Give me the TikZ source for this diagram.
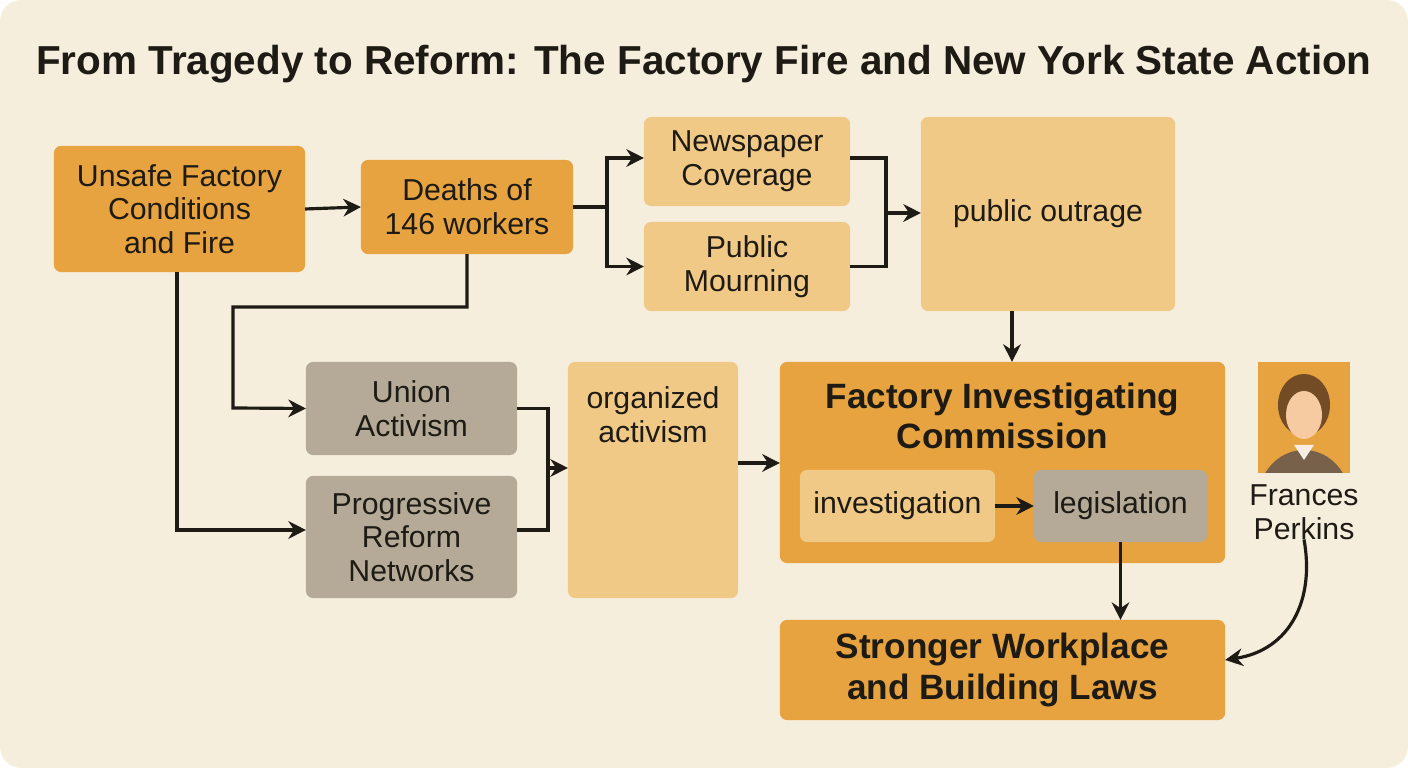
\documentclass[tikz,border=0pt]{standalone}
\usepackage{fontspec}
\setmainfont{Liberation Sans}
\usetikzlibrary{positioning,arrows.meta}
\definecolor{bgcol}{HTML}{F6EEDD}
\definecolor{darkbox}{HTML}{E6A33F}
\definecolor{lightbox}{HTML}{F0C987}
\definecolor{greybox}{HTML}{B4AA97}
\definecolor{inkcol}{HTML}{1E1A14}
\begin{document}
\begin{tikzpicture}[x=0.01cm,y=-0.01cm,inner sep=0pt,outer sep=0pt,thick,
box/.style={rectangle,rounded corners=2pt,align=center,text=inkcol,font=\fontsize{8.6}{9.6}\selectfont},
dbox/.style={box,fill=darkbox},
lbox/.style={box,fill=lightbox},
gbox/.style={box,fill=greybox},
arr/.style={-{Stealth[length=5pt,width=5pt]},draw=inkcol,line width=0.9pt}]
\fill[bgcol,rounded corners=6pt] (0,0) rectangle (1408,768);
\useasboundingbox (0,0) rectangle (1408,768);
\node[font=\bfseries\fontsize{11.5}{13}\selectfont,text=inkcol] (title) at (704,64) {From Tragedy to Reform: The Factory Fire and New York State Action};

\node[dbox,minimum width=2.51cm,minimum height=1.26cm] (unsafe) at (179.5,209) {Unsafe Factory\\Conditions\\and Fire};
\node[dbox,minimum width=2.12cm,minimum height=0.94cm] (deaths) at (467,207) {Deaths of\\146 workers};
\node[lbox,minimum width=2.06cm,minimum height=0.89cm] (news) at (747,161.5) {Newspaper\\Coverage};
\node[lbox,minimum width=2.06cm,minimum height=0.89cm] (mourn) at (747,266.5) {Public\\Mourning};
\node[lbox,minimum width=2.54cm,minimum height=1.94cm] (outrage) at (1048,214) {public outrage};
\node[gbox,minimum width=2.11cm,minimum height=0.93cm] (union) at (411.5,408.5) {Union\\Activism};
\node[gbox,minimum width=2.11cm,minimum height=1.22cm] (prog) at (411.5,537) {Progressive\\Reform\\Networks};
\node[lbox,minimum width=1.70cm,minimum height=2.36cm] (org) at (653,480) {organized\\activism\\[3.2em]};
\node[dbox,minimum width=4.45cm,minimum height=2.01cm] (fic) at (1002.5,462.5) {};
\node[box,font=\bfseries\fontsize{10}{11.5}\selectfont] (fictitle) at (1002.5,416) {Factory Investigating\\Commission};
\node[lbox,minimum width=1.95cm,minimum height=0.72cm] (invest) at (897.5,506) {investigation};
\node[gbox,minimum width=1.73cm,minimum height=0.72cm] (legis) at (1120.5,506) {legislation};
\node[dbox,minimum width=4.45cm,minimum height=1.00cm,font=\bfseries\fontsize{10}{11.5}\selectfont] (laws) at (1002.5,670) {Stronger Workplace\\and Building Laws};

% portrait
\node[fill=darkbox,minimum width=0.92cm,minimum height=1.11cm] (photo) at (1304,417.5) {};
\begin{scope}
\clip (1258,362) rectangle (1350,473);
\fill[brown!45!black!80] (1304,500) ellipse (46 and 50);
\fill[brown!60!black] (1304,405) ellipse (26 and 31);
\fill[orange!30!white!85!brown] (1304,415) ellipse (18 and 24);
\fill[white!85!brown] (1304,460) -- (1294,445) -- (1314,445) -- cycle;
\end{scope}
\node[box,font=\fontsize{8.6}{9.6}\selectfont] (perkins) at (1304,512) {Frances\\Perkins};

% connectors
\draw[arr] (unsafe.east) -- (deaths.west);
\coordinate (split) at (607,207);
\draw[draw=inkcol,line width=0.9pt] (deaths.east) -- (split);
\draw[arr] (split) |- (news.west |- 0,158);
\draw[arr] (split) |- (mourn.west);
\coordinate (join) at (886,213);
\draw[draw=inkcol,line width=0.9pt] (news.east |- 0,158) -| (join);
\draw[draw=inkcol,line width=0.9pt] (mourn.east) -| (join);
\draw[arr] (join) -- (outrage.west |- join);
\draw[arr] (outrage.south -| 1012,0) -- (fic.north -| 1012,0);
\draw[arr] (deaths.south) -- (467,307) -| (233,408) -- (union.west);
\draw[arr] (unsafe.south -| 177,0) |- (prog.west |- 0,530);
\coordinate (merge) at (548,468);
\draw[draw=inkcol,line width=0.9pt] (union.east) -| (merge);
\draw[draw=inkcol,line width=0.9pt] (prog.east |- 0,530) -| (merge);
\draw[arr] (merge) -- (org.west |- merge);
\draw[arr] (org.east |- 0,463) -- (fic.west |- 0,463);
\draw[arr] (invest.east) -- (legis.west);
\draw[arr] (legis.south) -- (laws.north -| legis.south);
\draw[arr] (perkins.south) .. controls (1315,600) and (1290,650) .. (laws.east |- 0,660);
\end{tikzpicture}
\end{document}
